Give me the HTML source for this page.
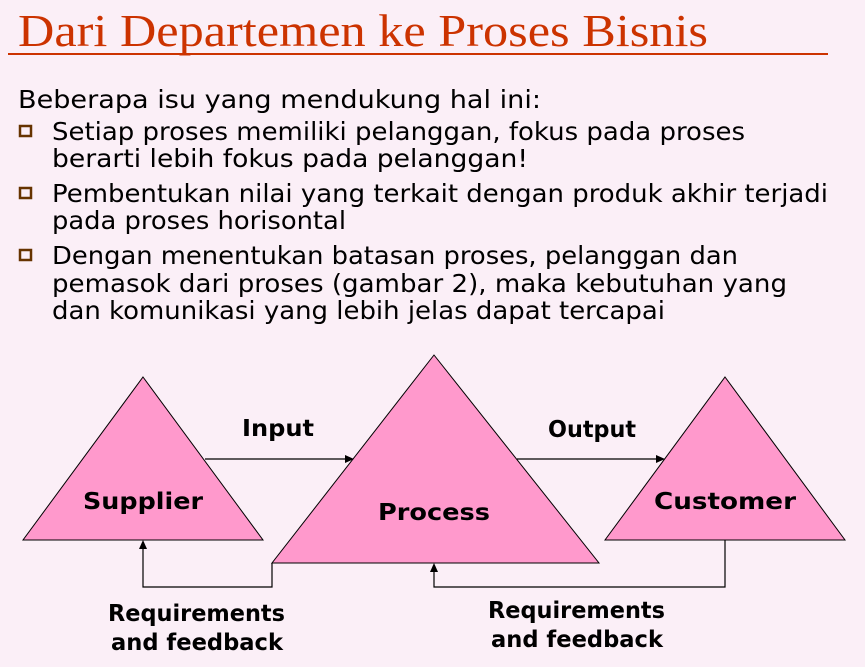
<!DOCTYPE html>
<html><head><meta charset="utf-8"><style>
html,body{margin:0;padding:0;background:#FBEFF7;}
svg{display:block}
.b{font-family:"DejaVu Sans","Liberation Sans",sans-serif;font-size:25px;fill:#000}
.l{font-family:"DejaVu Sans","Liberation Sans",sans-serif;font-size:23px;font-weight:bold;fill:#000}
</style></head><body>
<svg width="865" height="667" viewBox="0 0 865 667" xmlns="http://www.w3.org/2000/svg">
<rect width="865" height="667" fill="#FBEFF7"/>
<text x="18" y="46" font-family="Liberation Serif,serif" font-size="46" fill="#CC3300" textLength="690" lengthAdjust="spacingAndGlyphs">Dari Departemen ke Proses Bisnis</text>
<line x1="8" y1="54" x2="828" y2="54" stroke="#CC3300" stroke-width="2"/>
<text class="b" x="18" y="108" textLength="523" lengthAdjust="spacingAndGlyphs">Beberapa isu yang mendukung hal ini:</text>
<g fill="none" stroke="#663300" stroke-width="2.5">
<rect x="20" y="126" width="11" height="10"/>
<rect x="20" y="188" width="11" height="10"/>
<rect x="20" y="250" width="11" height="10"/>
</g>
<text class="b" x="52" y="140" textLength="693" lengthAdjust="spacingAndGlyphs">Setiap proses memiliki pelanggan, fokus pada proses</text>
<text class="b" x="52" y="167" textLength="476" lengthAdjust="spacingAndGlyphs">berarti lebih fokus pada pelanggan!</text>
<text class="b" x="52" y="202" textLength="776" lengthAdjust="spacingAndGlyphs">Pembentukan nilai yang terkait dengan produk akhir terjadi</text>
<text class="b" x="52" y="229" textLength="294" lengthAdjust="spacingAndGlyphs">pada proses horisontal</text>
<text class="b" x="52" y="264" textLength="686" lengthAdjust="spacingAndGlyphs">Dengan menentukan batasan proses, pelanggan dan</text>
<text class="b" x="52" y="292" textLength="735" lengthAdjust="spacingAndGlyphs">pemasok dari proses (gambar 2), maka kebutuhan yang</text>
<text class="b" x="52" y="319" textLength="613" lengthAdjust="spacingAndGlyphs">dan komunikasi yang lebih jelas dapat tercapai</text>
<g fill="#FF99CC" stroke="#000" stroke-width="1">
<polygon points="143,377 263,540 23,540"/>
<polygon points="725,377 845,540 605,540"/>
<polygon points="434,355 599,563 272,563"/>
</g>
<g stroke="#000" stroke-width="1.2" fill="none">
<line x1="205" y1="459" x2="348" y2="459"/>
<line x1="517" y1="459" x2="659" y2="459"/>
<polyline points="272,563 272,587 143,587 143,546"/>
<polyline points="725,540 725,587 434,587 434,569"/>
</g>
<g fill="#000">
<polygon points="354,459 345,455 345,463"/>
<polygon points="665,459 656,455 656,463"/>
<polygon points="143,540 139,549 147,549"/>
<polygon points="434,563 430,572 438,572"/>
</g>
<text class="l" x="242" y="436" textLength="72" lengthAdjust="spacingAndGlyphs">Input</text>
<text class="l" x="548" y="437" textLength="88" lengthAdjust="spacingAndGlyphs">Output</text>
<text class="l" x="83" y="509" textLength="120" lengthAdjust="spacingAndGlyphs">Supplier</text>
<text class="l" x="378" y="520" textLength="112" lengthAdjust="spacingAndGlyphs">Process</text>
<text class="l" x="654" y="509" textLength="142" lengthAdjust="spacingAndGlyphs">Customer</text>
<text class="l" x="108" y="621" textLength="177" lengthAdjust="spacingAndGlyphs">Requirements</text>
<text class="l" x="111" y="650" textLength="172" lengthAdjust="spacingAndGlyphs">and feedback</text>
<text class="l" x="488" y="618" textLength="177" lengthAdjust="spacingAndGlyphs">Requirements</text>
<text class="l" x="491" y="647" textLength="172" lengthAdjust="spacingAndGlyphs">and feedback</text>
</svg>
</body></html>
